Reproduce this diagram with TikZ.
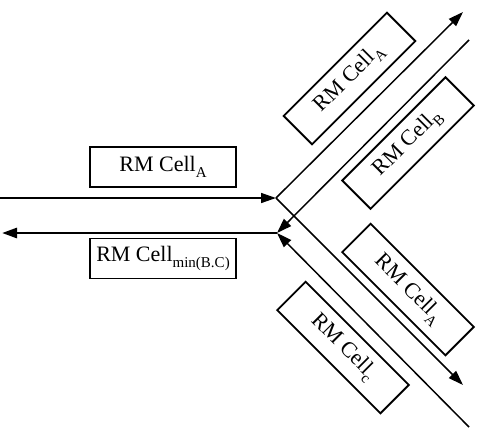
\documentclass[tikz,border=0pt]{standalone}
\usepackage{fontspec}
\setmainfont{Liberation Serif}
\usetikzlibrary{arrows.meta}
\newcommand{\cellsub}[1]{\raisebox{-6pt}{\fontsize{15}{15}\selectfont #1}}

\begin{document}
\begin{tikzpicture}[
  x=1pt, y=-1pt,
  cell/.style={draw, line width=1.8pt, minimum width=146pt, minimum height=40pt, inner sep=0pt, font=\fontsize{22}{26}\selectfont},
  arrow/.style={-{Triangle[length=15pt,width=10pt]}, line width=1.5pt},
  thickarrow/.style={-{Triangle[length=15pt,width=10pt]}, line width=2.7pt}
]
\useasboundingbox (0,0) rectangle (500,437);

% junctions and free ends
\coordinate (split) at (276,198);
\coordinate (merge) at (277,233);
\coordinate (inL) at (0,198);
\coordinate (outL) at (2,233);
\coordinate (upTip) at (463,12);
\coordinate (upStart) at (469,40);
\coordinate (dnTip) at (463,385);
\coordinate (dnStart) at (469,427);

% cells
\node[cell] (cellA) at (163,167) {RM Cell\cellsub{A}};
\node[cell] (cellMin) at (163,258.5) {RM Cell\cellsub{min(B.C)}};
\node[cell, rotate=45] (cellAup) at (349.5,78.5) {RM Cell\cellsub{A}};
\node[cell, rotate=45] (cellB) at (408,143) {RM Cell\cellsub{B}};
\node[cell, rotate=-45] (cellAdn) at (408,289.5) {RM Cell\cellsub{A}};
\node[cell, rotate=-45] (cellC) at (343,347.5) {RM Cell\cellsub{c}};

% flows
\draw[arrow] (inL) -- (split);
\draw[arrow] (split) -- (upTip);
\draw[arrow] (split) -- (dnTip);
\draw[arrow] (upStart) -- (merge);
\draw[arrow] (dnStart) -- (merge);
\draw[thickarrow] (merge) -- (outL);
\end{tikzpicture}
\end{document}
